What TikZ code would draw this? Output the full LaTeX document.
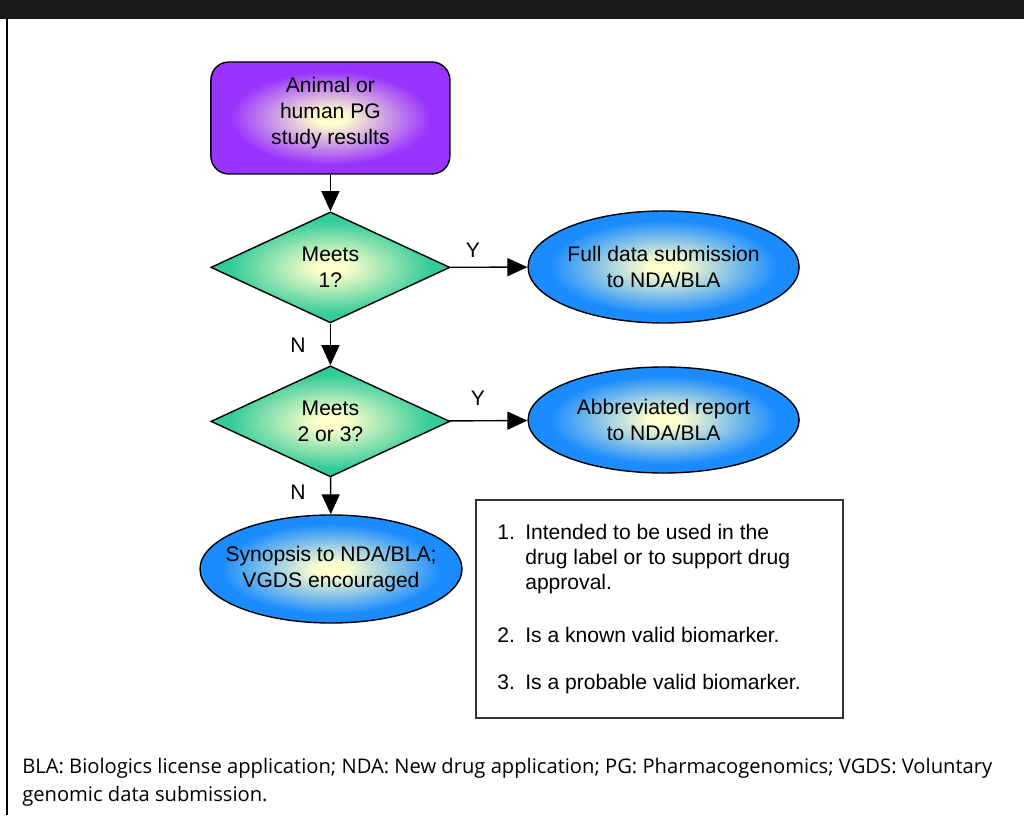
\documentclass[tikz,border=0pt]{standalone}
\usepackage{fontspec}
\setmainfont{Liberation Sans}
\newfontfamily\footfont{Open Sans}
\usetikzlibrary{positioning,arrows.meta,shapes.geometric}

\definecolor{glow}{RGB}{255,255,204}
\definecolor{violetbox}{RGB}{153,51,255}
\definecolor{greendec}{RGB}{51,204,153}
\definecolor{blueend}{RGB}{26,140,255}

\pgfdeclareradialshading{violetglow}{\pgfpoint{0bp}{0bp}}{color(0bp)=(glow); color(3bp)=(glow); color(21bp)=(violetbox); color(50bp)=(violetbox)}
\pgfdeclareradialshading{greenglow}{\pgfpoint{0bp}{0bp}}{color(0bp)=(glow); color(3bp)=(glow); color(21bp)=(greendec); color(50bp)=(greendec)}
\pgfdeclareradialshading{blueglow}{\pgfpoint{0bp}{0bp}}{color(0bp)=(glow); color(3bp)=(glow); color(21bp)=(blueend); color(50bp)=(blueend)}

\begin{document}
\begin{tikzpicture}[font=\fontsize{15}{18.5}\selectfont,
  startbox/.style={draw,line width=1pt,rounded corners=0.45cm,minimum width=5.975cm,minimum height=2.8cm,inner sep=0pt,align=center,text depth=10pt,shading=violetglow},
  decision/.style={diamond,draw,line width=1pt,aspect=2.15,minimum width=5.975cm,minimum height=2.775cm,inner sep=0pt,align=center,shading=greenglow},
  outcome/.style={ellipse,draw,line width=1pt,inner xsep=-0.4cm,inner ysep=0pt,align=center,shading=blueglow},
  flow/.style={-{Triangle[length=0.5cm,width=0.45cm]},line width=1pt},
  yn/.style={font=\fontsize{15}{17}\selectfont},
  noteline/.style={anchor=base west,inner sep=0pt,align=left,font=\fontsize{15}{17.8}\selectfont}]
  \useasboundingbox (0,0) rectangle (25.6,20.375);
  \fill[black!90] (0,19.9) rectangle (25.6,20.375);
  \draw[line width=2pt] (0.175,0) -- (0.175,19.9);

  \node[startbox] (study) at (8.26,17.425) {Animal or\\human PG\\study results};
  \node[decision] (meets1) at (8.26,13.69) {Meets\\1?};
  \node[decision] (meets23) at (8.26,9.84) {Meets\\2 or 3?};
  \node[outcome,minimum width=6.775cm,minimum height=2.8cm] (full) at (16.59,13.7) {Full data submission\\to NDA/BLA};
  \node[outcome,minimum width=6.775cm,minimum height=2.65cm] (abbrev) at (16.59,9.875) {Abbreviated report\\to NDA/BLA};
  \node[outcome,minimum width=6.55cm,minimum height=2.7cm] (synopsis) at (8.275,6.15) {Synopsis to NDA/BLA;\\VGDS encouraged};

  \draw[flow] (study) -- (meets1);
  \draw[flow] (meets1) -- (full);
  \draw[flow] (meets1) -- (meets23);
  \draw[flow] (meets23) -- (abbrev);
  \draw[flow] (meets23) -- (synopsis);
  \node[yn] (y1) at (11.825,14.125) {Y};
  \node[yn] (y2) at (11.95,10.425) {Y};
  \node[yn] (n1) at (7.45,11.75) {N};
  \node[yn] (n2) at (7.45,8.075) {N};

  \draw[line width=0.9pt,black!80] (11.9,2.425) rectangle (21.075,7.875);
  \node[noteline] (num1) at (12.425,6.875) {1.};
  \node[noteline] (crit1) at (13.125,5.625) {Intended to be used in the\\drug label or to support drug\\approval.};
  \node[noteline] (num2) at (12.425,4.3) {2.};
  \node[noteline] (crit2) at (13.125,4.3) {Is a known valid biomarker.};
  \node[noteline] (num3) at (12.425,3.125) {3.};
  \node[noteline] (crit3) at (13.125,3.125) {Is a probable valid biomarker.};

  \node[anchor=base west,inner sep=0pt,font=\footfont\fontsize{14.35}{20.6}\selectfont] (legend1) at (0.55,1.05) {BLA: Biologics license application; NDA: New drug application; PG: Pharmacogenomics; VGDS: Voluntary};
  \node[anchor=base west,inner sep=0pt,font=\footfont\fontsize{14.35}{20.6}\selectfont] (legend2) at (0.55,0.325) {genomic data submission.};
\end{tikzpicture}
\end{document}
